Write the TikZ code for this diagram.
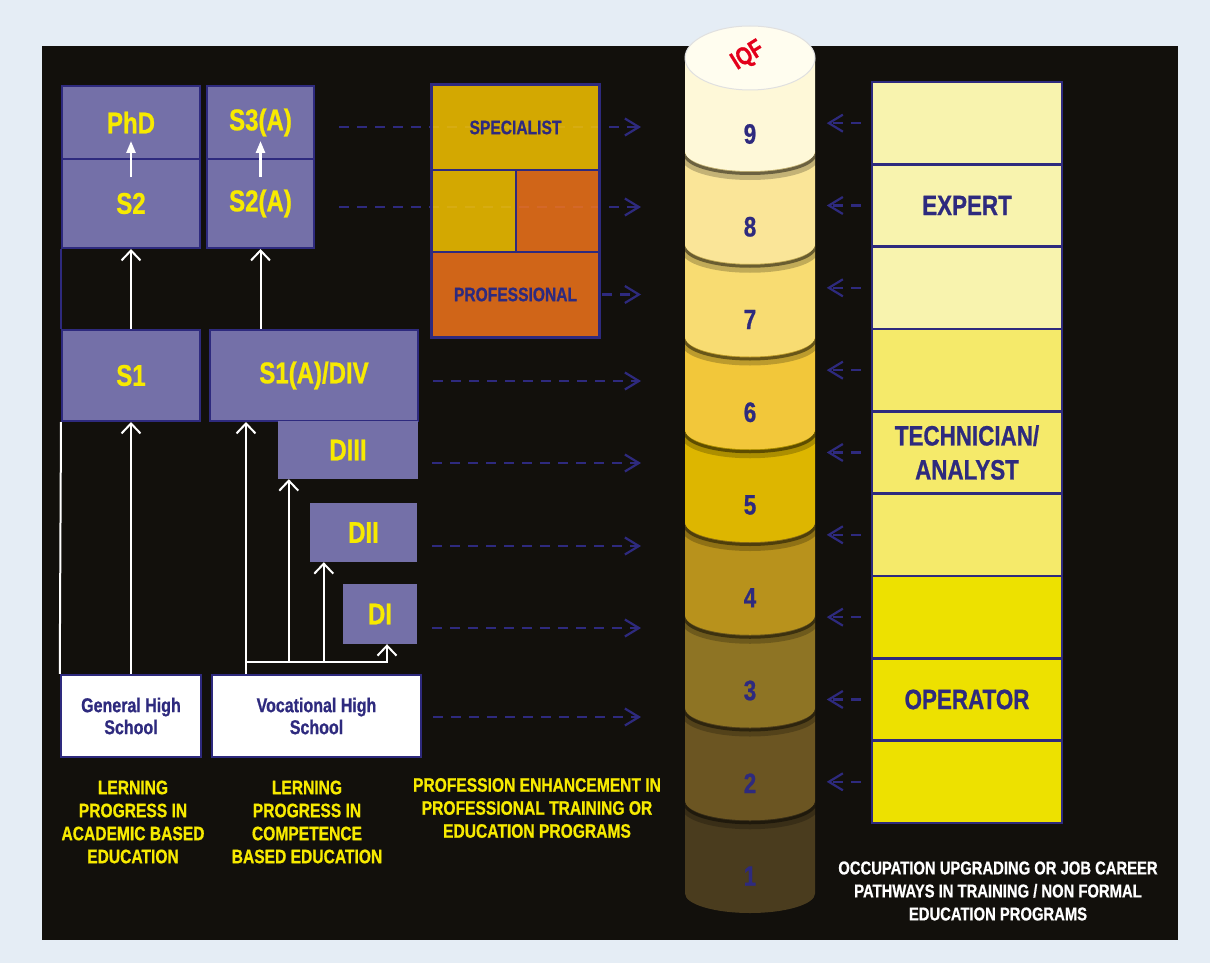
\documentclass[tikz,border=0pt]{standalone}
\usepackage{fontspec}
\setmainfont{Liberation Sans}[FakeStretch=0.8, BoldFeatures={FakeBold=0.8}]
\usepackage{xcolor}
\usetikzlibrary{calc, arrows.meta, positioning}

\definecolor{pagebg}{HTML}{E5EDF5}
\definecolor{panel}{HTML}{12100C}
\definecolor{lilac}{HTML}{7470A8}
\definecolor{navy}{HTML}{2E2A7E}
\definecolor{lemon}{HTML}{F7EA00}
\definecolor{gold}{HTML}{F5C300}
\definecolor{rust}{HTML}{F2741B}
\definecolor{paleA}{HTML}{F8F3AE}
\definecolor{paleB}{HTML}{F5EA6A}
\definecolor{paleC}{HTML}{EDE100}
\definecolor{lv1}{HTML}{4A3C1E}
\definecolor{lv2}{HTML}{6B5522}
\definecolor{lv3}{HTML}{8E7424}
\definecolor{lv4}{HTML}{B8921C}
\definecolor{lv5}{HTML}{DDB600}
\definecolor{lv6}{HTML}{F2C73A}
\definecolor{lv7}{HTML}{F8DC72}
\definecolor{lv8}{HTML}{FAE598}
\definecolor{lv9}{HTML}{FEF8D8}
\definecolor{topcap}{HTML}{FFFDEF}
\definecolor{iqfred}{HTML}{E3001B}

\newcommand{\txtsize}[2]{\fontsize{#1}{#2}\selectfont}

\begin{document}
\begin{tikzpicture}[x=1pt, y=-1pt, >=latex]
		\tikzstyle{degree} = [draw=navy, line width=2pt, fill=lilac, text=lemon, font=\bfseries\txtsize{30}{32}, inner sep=0pt]
		\tikzstyle{dipl} = [fill=lilac, text=lemon, font=\bfseries\txtsize{30}{32}, inner sep=0pt]
		\tikzstyle{school} = [draw=navy, line width=2.5pt, fill=white, text=navy, font=\bfseries\txtsize{20}{22}, align=center, inner sep=0pt]
		\tikzstyle{caption} = [text=lemon, font=\bfseries\txtsize{19.5}{23}, align=center]
		\tikzstyle{prof} = [draw=navy, line width=2pt, fill opacity=0.85, text opacity=1, text=navy, font=\bfseries\txtsize{19.5}{22}, inner sep=0pt]
		\tikzstyle{job} = [draw=navy, line width=2.5pt, text=navy, font=\bfseries\txtsize{28}{34}, align=center, minimum width=190pt, minimum height=82.33pt, inner sep=0pt]
		\tikzstyle{levelnum} = [text=navy, font=\bfseries\txtsize{28}{28}]
		\tikzstyle{up} = [white, line width=2pt, -{Straight Barb[length=10pt,width=19pt]}]
		\tikzstyle{upsmall} = [white, line width=2.5pt, -{Triangle[length=12pt,width=9pt]}]
		\tikzstyle{link} = [white, line width=2pt]
		\tikzstyle{feed} = [navy, line width=2.2pt, dash pattern=on 10pt off 8pt, -{Straight Barb[length=14pt,width=17pt]}]
		
		\useasboundingbox (0,0) rectangle (1210,963);
		\fill[pagebg] (0,0) rectangle (1210,963);
		\fill[panel] (42,46) rectangle (1178,940);
		
		\node[degree, minimum width=138pt, minimum height=73pt] 	at (131, 122.5)	(phd) 	{PhD};
		\node[degree, minimum width=138pt, minimum height=89pt] 	at (131, 203.5)	(s2) 	{S2};
		\node[degree, minimum width=107pt, minimum height=73pt] 	at (260.5, 122.5)	(s3a) 	{S3(A)};
		\node[degree, minimum width=107pt, minimum height=89pt] 	at (260.5, 203.5)	(s2a) 	{S2(A)};
		\node[degree, minimum width=138pt, minimum height=91pt] 	at (131, 375.5)	(s1) 	{S1};
		\node[degree, minimum width=208pt, minimum height=91pt] 	at (314, 375.5)	(s1a) 	{S1(A)/DIV};
		\node[dipl, minimum width=140pt, minimum height=58pt] 	at (348, 450)	(diii) 	{DIII};
		\node[dipl, minimum width=107pt, minimum height=59pt] 	at (363.5, 532.5)	(dii) 	{DII};
		\node[dipl, minimum width=74pt, minimum height=60pt] 	at (380, 614)	(di) 	{DI};
		\node[school, minimum width=140pt, minimum height=82pt] 	at (131, 716)	(ghs) 	{General High\\School};
		\node[school, minimum width=209pt, minimum height=82pt] 	at (316.5, 716)	(vhs) 	{Vocational High\\School};
		\coordinate (vbase) at (246, 662);
		\coordinate (tipx) at (641, 0);
		
		\draw[upsmall] ([yshift=-19pt]s2.north) -- ([yshift=17pt]s2.north);
		\draw[upsmall] ([yshift=-19pt]s2a.north) -- ([yshift=17pt]s2a.north);
		\draw[navy, line width=2pt] (s2.south west) -- (s1.north west);
		\draw[up] (s1.north) -- (s2.south);
		\draw[up] (s1a.north -| s2a.south) -- (s2a.south);
		\draw[up] (ghs.north) -- (s1.south);
		\draw[link] (ghs.north west) -- (s1.south west);
		\draw[up] (vhs.north -| vbase) -- (s1a.south -| vbase);
		\draw[up] (vbase) -| ([xshift=7pt]di.south);
		\draw[up] ([xshift=11pt]diii.south west |- vbase) -- ([xshift=11pt]diii.south west);
		\draw[up] ([xshift=14pt]dii.south west |- vbase) -- ([xshift=14pt]dii.south west);
		
		\draw[feed] ([xshift=24pt,yshift=-4.5pt]s3a.east) -- ([yshift=-4.5pt]s3a.east -| tipx);
		\draw[feed] ([xshift=24pt,yshift=-3.5pt]s2a.east) -- ([yshift=-3.5pt]s2a.east -| tipx);
		
		\node[prof, fill=gold, minimum width=167pt, minimum height=85pt] 	at (515.5, 127.5)	(spec) 	{SPECIALIST};
		\node[prof, fill=gold, line width=1.5pt, minimum width=84pt, minimum height=82pt] 	at (474, 211)	(midl) 	{};
		\node[prof, fill=rust, line width=1.5pt, minimum width=83pt, minimum height=82pt] 	at (557.5, 211)	(midr) 	{};
		\node[prof, fill=rust, minimum width=167pt, minimum height=85pt] 	at (515.5, 294.5)	(profl) 	{PROFESSIONAL};
		\draw[navy, line width=2.5pt] (spec.north west) rectangle (profl.south east);
		
		\draw[feed] ([xshift=2pt]profl.east) -- (profl.east -| tipx);
		\draw[feed] ([xshift=14pt,yshift=-5.5pt]s1a.east) -- ([yshift=-5.5pt]s1a.east -| tipx);
		\draw[feed] ([xshift=14pt,yshift=-13pt]diii.east) -- ([yshift=-13pt]diii.east -| tipx);
		\draw[feed] ([xshift=15pt,yshift=-13.5pt]dii.east) -- ([yshift=-13.5pt]dii.east -| tipx);
		\draw[feed] ([xshift=15pt,yshift=-14pt]di.east) -- ([yshift=-14pt]di.east -| tipx);
		\draw[feed] ([xshift=11pt,yshift=-1pt]vhs.east) -- ([yshift=-1pt]vhs.east -| tipx);
		
		\begin{scope}
			\clip (685,0) rectangle (815,963);
			\foreach \k in {1,...,9} {
				\pgfmathsetmacro{\low}{171+(9-\k)*92.75}
				\pgfmathsetmacro{\side}{\low-19.5}
				\pgfmathsetmacro{\top}{ifthenelse(\k==9,58,\side-92.75)}
				\fill[lv\k] (685,\top) -- (685,\side) arc[start angle=180, end angle=0, x radius=65, y radius=19.5] -- (815,\top) -- cycle;
				\ifnum\k<9
					\draw[black, opacity=0.22, line width=9pt] (685,\side-88.25) arc[start angle=180, end angle=0, x radius=65, y radius=19.5];
					\draw[black, opacity=0.45, line width=3pt] (685,\side-90.25) arc[start angle=180, end angle=0, x radius=65, y radius=19.5];
				\fi
			}
		\end{scope}
		\fill[topcap, draw=black!12, line width=1pt] (750,58) ellipse[x radius=65, y radius=32];
		\node[text=iqfred, font=\bfseries\txtsize{25}{25}, rotate=32, inner sep=0pt] 	at (748, 56)	(iqf) 	{IQF};
		\foreach \k in {1,...,9} {
			\pgfmathsetmacro{\low}{171+(9-\k)*92.75}
			\node[levelnum] 	at (750, \low-37)	(lv\k) 	{\k};
		}
		
		\foreach \i/\col/\txt in {1/paleA/{}, 2/paleA/{EXPERT}, 3/paleA/{}, 4/paleB/{}, 5/paleB/{TECHNICIAN/\\ANALYST}, 6/paleB/{}, 7/paleC/{}, 8/paleC/{OPERATOR}, 9/paleC/{}} {
			\node[job, fill=\col] 	at (967, 82+\i*82.33-41.17)	(r\i) 	{\txt};
			\draw[feed] ([xshift=-10pt]r\i.west) -- ([xshift=-44pt]r\i.west);
		}
		
		\node[caption] 	at (133, 822)	(capa) 	{LERNING\\PROGRESS IN\\ACADEMIC BASED\\EDUCATION};
		\node[caption] 	at (307, 822)	(capb) 	{LERNING\\PROGRESS IN\\COMPETENCE\\BASED EDUCATION};
		\node[caption] 	at (537, 808)	(capc) 	{PROFESSION ENHANCEMENT IN\\PROFESSIONAL TRAINING OR\\EDUCATION PROGRAMS};
		\node[caption, text=white, font=\bfseries\txtsize{18.5}{23}] 	at (998, 891)	(capd) 	{OCCUPATION UPGRADING OR JOB CAREER\\PATHWAYS IN TRAINING / NON FORMAL\\EDUCATION PROGRAMS};
	\end{tikzpicture}
\end{document}
